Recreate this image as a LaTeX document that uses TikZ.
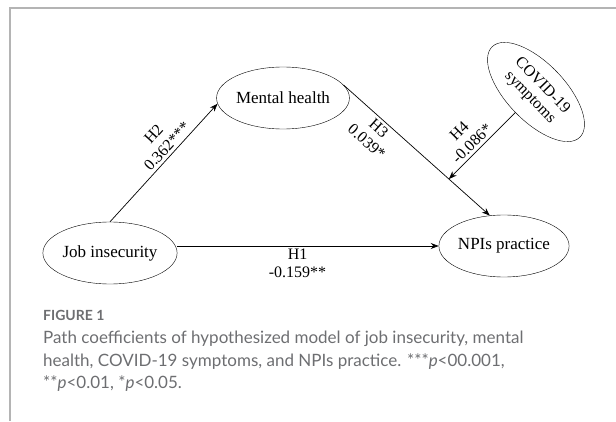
\documentclass[tikz,border=0pt]{standalone}
\usepackage{fontspec}
\setmainfont{Liberation Serif}
\newfontfamily\capfont{Lato}
\usetikzlibrary{arrows.meta,shapes.geometric}
\definecolor{capgray}{HTML}{6D6E71}
\definecolor{framegray}{HTML}{B4B4B4}

\begin{document}
\begin{tikzpicture}[x=1pt, y=1pt, >={Stealth[length=8pt,width=6pt]},
  every node/.style={font=\fontsize{17}{17}\selectfont},
  var/.style={draw, ellipse, inner sep=0pt, minimum width=124pt, minimum height=62pt},
  link/.style={->, line width=0.7pt},
  coef/.style={align=center, sloped, inner sep=3pt, font=\fontsize{16}{18}\selectfont}]
  \useasboundingbox (0,0) rectangle (616,421);
  \draw[framegray, line width=1.2pt] (10,0) -- (10,413) -- (616,413);
  % variables
  \node[var] (ji) at (110,168) {Job insecurity};
  \node[var] (mh) at (283,323) {Mental health};
  \node[var] (npi) at (504,175) {NPIs practice};
  \node[var, rotate=-46, align=center, minimum width=126pt, minimum height=58pt,
    font=\fontsize{16}{17}\selectfont] (cov) at (536,329) {COVID-19\\symptoms};
  % paths
  \draw[link] (ji.north) -- node[coef, above, pos=0.59] {H2\\0.362***} (mh.185);
  \draw[link] (mh.12) -- node[coef, below, pos=0.28] {H3\\0.039*} (npi.115);
  \path (mh.12) -- (npi.115) coordinate[pos=0.72] (mod);
  \draw[link] (cov) -- node[coef, above, pos=0.56] {H4\\-0.086*} (mod);
  \draw[link] (ji.east |- npi.west) -- node[coef, below, pos=0.46] {H1\\-0.159**} (npi.west);
  % caption
  \node[anchor=west, inner sep=0pt, text=capgray, font=\capfont\bfseries\fontsize{14}{14}\selectfont] (fig) at (43,106) {FIGURE 1};
  \node[anchor=north west, inner sep=0pt, align=left, text=capgray, font=\capfont\fontsize{17}{22.5}\selectfont] (cap) at (43,90)
    {Path coefficients of hypothesized model of job insecurity, mental\\
     health, COVID-19 symptoms, and NPIs practice. ***\textit{p}<00.001,\\
     **\textit{p}<0.01, *\textit{p}<0.05.};
\end{tikzpicture}
\end{document}
